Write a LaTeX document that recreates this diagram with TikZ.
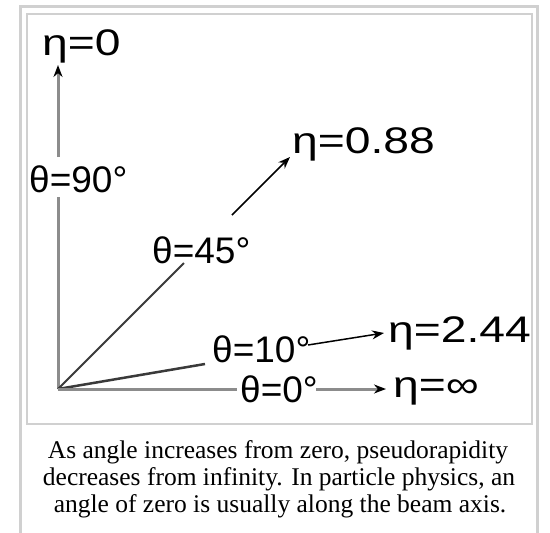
\documentclass[tikz,border=0pt]{standalone}
\usepackage{fontspec}
\setmainfont{Liberation Serif}
\newfontfamily\labfont{Liberation Sans}
\usetikzlibrary{arrows.meta}
\definecolor{framegray}{HTML}{D0D0D0}
\definecolor{axisgray}{HTML}{8C8C8C}
\definecolor{raygray}{HTML}{3A3A3A}
\newcommand{\wideeta}[1]{\scalebox{1.25}[1]{#1}}
\begin{document}
\begin{tikzpicture}[x=1pt,y=-1pt,
  lbl/.style={font=\labfont\fontsize{37}{40}\selectfont, inner sep=0pt, anchor=base west},
  captext/.style={font=\fontsize{25.5}{28}\selectfont, inner sep=0pt, anchor=base},
  axisline/.style={axisgray, line width=3pt},
  rayline/.style={raygray, line width=2pt},
  tipk/.style={-{Stealth[length=12pt,width=9pt,black]}},
  thinarrow/.style={black, line width=1.5pt, -{Stealth[length=12pt,width=9pt,black]}},
]
\useasboundingbox (0,0) rectangle (550,533);
\fill[white] (0,0) rectangle (550,533);
% frames
\draw[framegray, line width=3pt] (20,545) -- (20,6) -- (537,6) -- (537,545);
\draw[framegray, line width=2.5pt] (27,14) rectangle (532,424);

% labels
\node[lbl] (eta0) at (42,55) {\wideeta{η=0}};
\node[lbl] (th90) at (29,192) {θ=90°};
\node[lbl] (th45) at (152,263) {θ=45°};
\node[lbl] (eta088) at (292,153) {\wideeta{η=0.88}};
\node[lbl] (th10) at (212,362) {θ=10°};
\node[lbl] (eta244) at (388,342) {\wideeta{η=2.44}};
\node[lbl] (th0) at (240,402) {θ=0°};
\node[lbl] (etainf) at (393,397) {\wideeta{η=∞}};

% line end points
\coordinate (O) at (58,389);
\coordinate (v1) at (58,197);
\coordinate (v2) at (58,157);
\coordinate (vt) at (58,65);
\coordinate (d1) at (184,263);
\coordinate (d2) at (232,215);
\coordinate (dt) at (290,157);
\coordinate (t1) at (205,364);
\coordinate (t2) at (308,345);
\coordinate (tt) at (384,333);
\coordinate (z1) at (237,389);
\coordinate (z2) at (316,389);
\coordinate (zt) at (386,389);

% rays
\draw[axisline] (O) -- (v1);
\draw[axisline, tipk] (v2) -- (vt);
\draw[rayline] (O) -- (d1);
\draw[thinarrow] (d2) -- (dt);
\draw[rayline, line width=2.5pt] (O) -- (t1);
\draw[thinarrow] (t2) -- (tt);
\draw[axisline] (O) -- (z1);
\draw[axisline, tipk] (z2) -- (zt);

% caption
\node[captext] (c1) at (278,458) {As angle increases from zero, pseudorapidity};
\node[captext] (c2) at (279,485) {decreases from infinity. In particle physics, an};
\node[captext] (c3) at (280,512) {angle of zero is usually along the beam axis.};
\end{tikzpicture}
\end{document}
